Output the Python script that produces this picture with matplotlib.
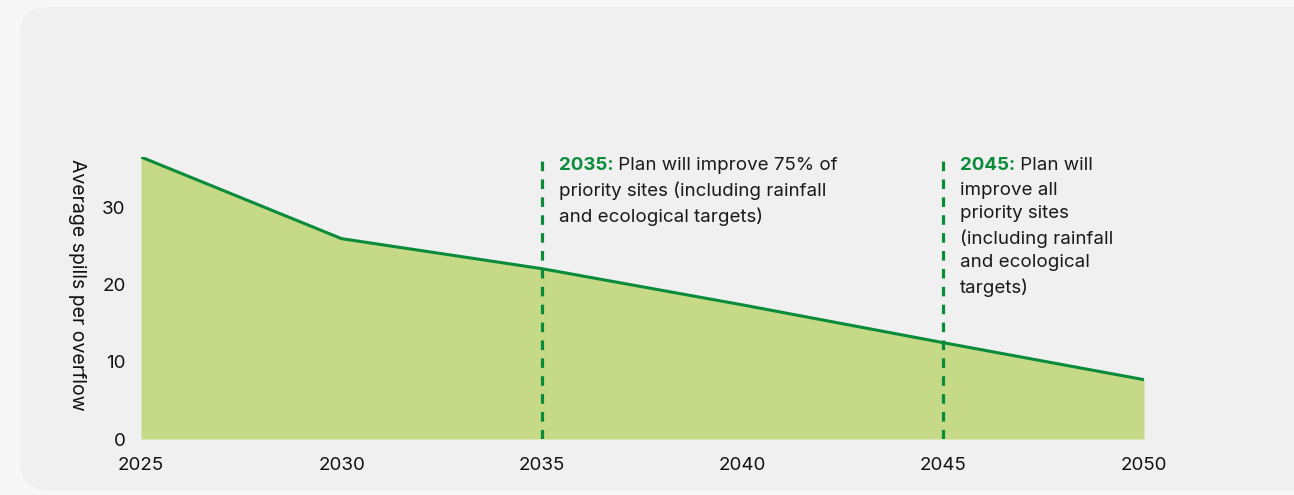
import matplotlib.pyplot as plt
from matplotlib.patches import FancyBboxPatch

plt.rcParams['font.family'] = ['Inter', 'DejaVu Sans']

years = [2025, 2030, 2035, 2040, 2045, 2050]
spills = [36.6, 26.0, 22.1, 17.4, 12.5, 7.7]
y_ticks = [0, 10, 20, 30]
x_ticks = [2025, 2030, 2035, 2040, 2045, 2050]

notes = [
    (2035, "2035:", " Plan will improve 75% of",
     "priority sites (including rainfall\nand ecological targets)"),
    (2045, "2045:", " Plan will",
     "improve all\npriority sites\n(including rainfall\nand ecological\ntargets)"),
]

green = '#098b3a'
fill_col = '#c5d986'
fs = 13.5

W, H = 1294, 495
fig = plt.figure(figsize=(W / 100, H / 100), dpi=100)
fig.patch.set_facecolor('#f7f7f7')

# rounded panel behind the chart
panel = FancyBboxPatch((20 / W, 5 / H), 1.2, (483 / H),
                       boxstyle="round,pad=0,rounding_size=0.022",
                       transform=fig.transFigure, facecolor='#f0f0f0',
                       edgecolor='none', zorder=-5, mutation_aspect=W / H)
fig.patches.append(panel)

ax = fig.add_axes([141 / W, (H - 439) / H, (1144 - 141) / W, (439 - 157) / H])
ax.set_facecolor('none')
ax.set_zorder(2)

ax.fill_between(years, spills, 0, color=fill_col, linewidth=0, zorder=1)
ax.plot(years, spills, color=green, linewidth=2.2, zorder=3,
        solid_capstyle='round')

ymax = spills[0]
ax.set_xlim(years[0], years[-1])
ax.set_ylim(0, ymax)

for yr, head, rest1, rest in notes:
    ax.plot([yr, yr], [0, ymax], color=green, linewidth=2.3,
            linestyle=(0, (3.0, 2.6)), zorder=4)
    t = ax.annotate(head, xy=(yr, ymax), xytext=(12, 0),
                    textcoords='offset points', ha='left', va='top',
                    color=green, fontsize=fs, fontweight='bold')
    ax.annotate(rest1, xy=(1, 0), xycoords=t, ha='left', va='bottom',
                color='#1a1a1a', fontsize=fs)
    ax.annotate(rest, xy=(yr, ymax), xytext=(12, -17.7),
                textcoords='offset points', ha='left', va='top',
                color='#1a1a1a', fontsize=fs, linespacing=1.5)

ax.set_xticks(x_ticks)
ax.set_xticklabels([str(x) for x in x_ticks])
ax.set_yticks(y_ticks)
ax.tick_params(length=0, labelsize=fs, colors='#111111')
ax.tick_params(axis='x', pad=13)
ax.tick_params(axis='y', pad=11)
for s in ax.spines.values():
    s.set_visible(False)

ax.set_ylabel("Average spills per overflow", rotation=270, fontsize=14,
              color='#111111', labelpad=0)
ax.yaxis.set_label_coords(-0.073, 0.546)

fig.savefig('out.png', dpi=100, facecolor=fig.get_facecolor())
